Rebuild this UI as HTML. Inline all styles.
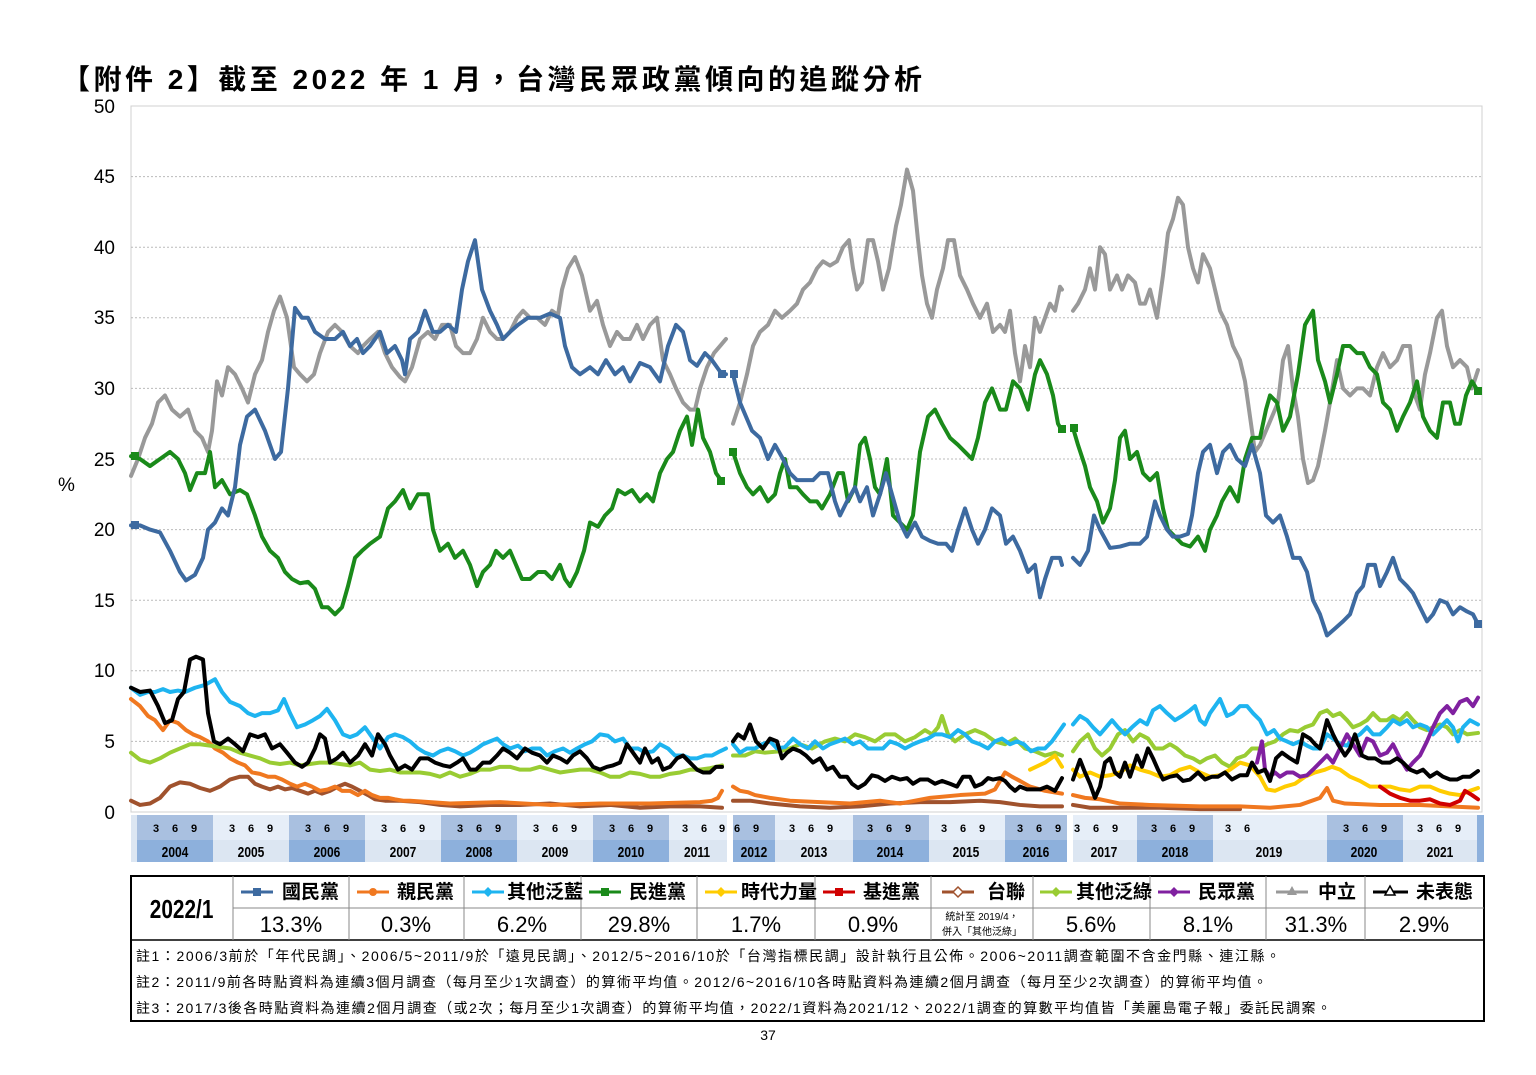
<!DOCTYPE html>
<html><head><meta charset="utf-8"><style>
body{margin:0;background:#fff;width:1536px;height:1075px;overflow:hidden;font-family:"Liberation Sans","Noto Sans CJK TC",sans-serif}
</style></head><body>
<svg width="1536" height="1075" xmlns="http://www.w3.org/2000/svg" style="position:absolute;left:0;top:0">
<text x="62" y="89" font-size="28" font-weight="bold" textLength="860" lengthAdjust="spacing" font-family="'Liberation Sans','Noto Sans CJK TC',sans-serif" fill="#000">【附件 2】截至 2022 年 1 月，台灣民眾政黨傾向的追蹤分析</text>
<rect x="131" y="106" width="1351" height="706" fill="none" stroke="#d0d0d0"/>
<g stroke="#bbb" stroke-dasharray="2,2" stroke-width="1">
<line x1="131" x2="1482" y1="176.6" y2="176.6"/><line x1="131" x2="1482" y1="247.2" y2="247.2"/><line x1="131" x2="1482" y1="317.8" y2="317.8"/><line x1="131" x2="1482" y1="388.4" y2="388.4"/><line x1="131" x2="1482" y1="459" y2="459"/><line x1="131" x2="1482" y1="529.6" y2="529.6"/><line x1="131" x2="1482" y1="600.2" y2="600.2"/><line x1="131" x2="1482" y1="670.8" y2="670.8"/><line x1="131" x2="1482" y1="741.4" y2="741.4"/>
</g>
<g font-size="19" fill="#000" text-anchor="end">
<text x="115" y="113">50</text><text x="115" y="183">45</text><text x="115" y="254">40</text><text x="115" y="324">35</text><text x="115" y="395">30</text><text x="115" y="466">25</text><text x="115" y="536">20</text><text x="115" y="607">15</text><text x="115" y="677">10</text><text x="115" y="748">5</text><text x="115" y="819">0</text>
</g>
<text x="58" y="491" font-size="19">%</text>
<g>
<rect x="131" y="815" width="6" height="47" fill="#dce6f2"/>
<rect x="137" y="815" width="76" height="25" fill="#a9c0e0"/><rect x="137" y="840" width="76" height="22" fill="#8db0dc"/>
<rect x="213" y="815" width="76" height="25" fill="#e6eef8"/><rect x="213" y="840" width="76" height="22" fill="#dce6f2"/>
<rect x="289" y="815" width="76" height="25" fill="#a9c0e0"/><rect x="289" y="840" width="76" height="22" fill="#8db0dc"/>
<rect x="365" y="815" width="76" height="25" fill="#e6eef8"/><rect x="365" y="840" width="76" height="22" fill="#dce6f2"/>
<rect x="441" y="815" width="76" height="25" fill="#a9c0e0"/><rect x="441" y="840" width="76" height="22" fill="#8db0dc"/>
<rect x="517" y="815" width="76" height="25" fill="#e6eef8"/><rect x="517" y="840" width="76" height="22" fill="#dce6f2"/>
<rect x="593" y="815" width="76" height="25" fill="#a9c0e0"/><rect x="593" y="840" width="76" height="22" fill="#8db0dc"/>
<rect x="669" y="815" width="58" height="25" fill="#e6eef8"/><rect x="669" y="840" width="58" height="22" fill="#dce6f2"/>
<rect x="733" y="815" width="42" height="25" fill="#a9c0e0"/><rect x="733" y="840" width="42" height="22" fill="#8db0dc"/>
<rect x="775" y="815" width="78" height="25" fill="#e6eef8"/><rect x="775" y="840" width="78" height="22" fill="#dce6f2"/>
<rect x="853" y="815" width="76" height="25" fill="#a9c0e0"/><rect x="853" y="840" width="76" height="22" fill="#8db0dc"/>
<rect x="929" y="815" width="76" height="25" fill="#e6eef8"/><rect x="929" y="840" width="76" height="22" fill="#dce6f2"/>
<rect x="1005" y="815" width="62" height="25" fill="#a9c0e0"/><rect x="1005" y="840" width="62" height="22" fill="#8db0dc"/>
<rect x="1073" y="815" width="64" height="25" fill="#e6eef8"/><rect x="1073" y="840" width="64" height="22" fill="#dce6f2"/>
<rect x="1137" y="815" width="76" height="25" fill="#a9c0e0"/><rect x="1137" y="840" width="76" height="22" fill="#8db0dc"/>
<rect x="1213" y="815" width="114" height="25" fill="#e6eef8"/><rect x="1213" y="840" width="114" height="22" fill="#dce6f2"/>
<rect x="1327" y="815" width="76" height="25" fill="#a9c0e0"/><rect x="1327" y="840" width="76" height="22" fill="#8db0dc"/>
<rect x="1403" y="815" width="74" height="25" fill="#e6eef8"/><rect x="1403" y="840" width="74" height="22" fill="#dce6f2"/>
<rect x="1477" y="815" width="7" height="47" fill="#8db0dc"/>
</g>
<g font-size="11" fill="#000" text-anchor="middle" font-weight="bold">
<text x="156" y="832">3</text><text x="175" y="832">6</text><text x="194" y="832">9</text>
<text x="232" y="832">3</text><text x="251" y="832">6</text><text x="270" y="832">9</text>
<text x="308" y="832">3</text><text x="327" y="832">6</text><text x="346" y="832">9</text>
<text x="384" y="832">3</text><text x="403" y="832">6</text><text x="422" y="832">9</text>
<text x="460" y="832">3</text><text x="479" y="832">6</text><text x="498" y="832">9</text>
<text x="536" y="832">3</text><text x="555" y="832">6</text><text x="574" y="832">9</text>
<text x="612" y="832">3</text><text x="631" y="832">6</text><text x="650" y="832">9</text>
<text x="685" y="832">3</text><text x="704" y="832">6</text><text x="722" y="832">9</text>
<text x="737" y="832">6</text><text x="756" y="832">9</text>
<text x="792" y="832">3</text><text x="811" y="832">6</text><text x="830" y="832">9</text>
<text x="870" y="832">3</text><text x="889" y="832">6</text><text x="908" y="832">9</text>
<text x="944" y="832">3</text><text x="963" y="832">6</text><text x="982" y="832">9</text>
<text x="1020" y="832">3</text><text x="1039" y="832">6</text><text x="1058" y="832">9</text>
<text x="1077" y="832">3</text><text x="1096" y="832">6</text><text x="1115" y="832">9</text>
<text x="1154" y="832">3</text><text x="1173" y="832">6</text><text x="1192" y="832">9</text>
<text x="1228" y="832">3</text><text x="1247" y="832">6</text>
<text x="1346" y="832">3</text><text x="1365" y="832">6</text><text x="1384" y="832">9</text>
<text x="1420" y="832">3</text><text x="1439" y="832">6</text><text x="1458" y="832">9</text>
</g>
<g font-size="15" fill="#000" text-anchor="middle" font-weight="bold" transform="scale(0.8,1)">
<text x="218.75" y="857">2004</text><text x="313.75" y="857">2005</text><text x="408.75" y="857">2006</text><text x="503.75" y="857">2007</text><text x="598.75" y="857">2008</text><text x="693.75" y="857">2009</text><text x="788.75" y="857">2010</text><text x="871.25" y="857">2011</text><text x="942.5" y="857">2012</text><text x="1017.5" y="857">2013</text><text x="1112.5" y="857">2014</text><text x="1207.5" y="857">2015</text><text x="1295" y="857">2016</text><text x="1380" y="857">2017</text><text x="1468.75" y="857">2018</text><text x="1586.25" y="857">2019</text><text x="1705" y="857">2020</text><text x="1800" y="857">2021</text>
</g>
<g fill="none" stroke-linejoin="round" stroke-linecap="round" transform="matrix(1,0,0,-14.12,0,812)">
<g stroke="#a0522d" stroke-width="4">
<polyline vector-effect="non-scaling-stroke" points="131,0.8 140,0.5 150,0.6 160,1 170,1.8 180,2.1 190,2 200,1.7 210,1.5 220,1.8 230,2.3 240,2.5 248,2.5 255,2 262,1.8 270,1.6 278,1.8 285,1.6 292,1.7 300,1.5 308,1.3 315,1.5 322,1.3 330,1.5 338,1.8 345,2 352,1.8 360,1.5 368,1.2 375,0.9 385,0.8 400,0.8 420,0.7 440,0.5 460,0.4 490,0.5 520,0.5 550,0.6 580,0.4 610,0.5 640,0.3 670,0.4 700,0.4 722,0.3"/>
<polyline vector-effect="non-scaling-stroke" points="733,0.8 750,0.8 770,0.6 800,0.4 830,0.3 860,0.4 890,0.6 920,0.7 950,0.7 980,0.8 1000,0.7 1020,0.5 1040,0.4 1062,0.4"/>
<polyline vector-effect="non-scaling-stroke" points="1073,0.5 1090,0.3 1120,0.3 1160,0.3 1200,0.2 1240,0.2"/>
</g>
<g stroke="#f07820" stroke-width="4">
<polyline vector-effect="non-scaling-stroke" points="131,8 140,7.5 148,6.8 155,6.5 163,5.8 170,6.5 178,6.3 186,5.8 193,5.5 200,5.3 208,5 215,4.5 223,4.2 230,3.8 238,3.5 245,3.3 252,2.8 260,2.7 268,2.5 275,2.5 282,2.3 290,2 297,1.8 305,2 312,1.8 320,1.5 328,1.6 335,1.8 342,1.5 350,1.5 358,1.2 365,1.5 372,1.2 380,1 388,1 395,0.9 403,0.8 410,0.8 450,0.6 500,0.7 550,0.5 600,0.6 650,0.6 700,0.7 712,0.8 718,1 722,1.5"/>
<polyline vector-effect="non-scaling-stroke" points="733,1.8 740,1.5 748,1.4 755,1.2 770,1 790,0.8 820,0.7 850,0.6 880,0.8 900,0.6 930,1 960,1.2 985,1.3 995,1.6 1005,2.8 1012,2.5 1020,2.2 1030,1.8 1045,1.5 1062,1.3"/>
<polyline vector-effect="non-scaling-stroke" points="1073,1.2 1085,1 1100,0.9 1120,0.6 1150,0.5 1200,0.4 1240,0.4 1270,0.3 1300,0.5 1320,1 1327,1.7 1333,0.8 1345,0.6 1380,0.5 1420,0.5 1478,0.3"/>
</g>
<g stroke="#99cc33" stroke-width="4">
<polyline vector-effect="non-scaling-stroke" points="131,4.2 140,3.7 150,3.5 160,3.8 170,4.2 180,4.5 190,4.8 200,4.8 210,4.7 220,4.6 230,4.5 240,4.2 250,4 260,3.8 270,3.5 280,3.4 290,3.5 300,3.3 310,3.4 320,3.5 330,3.5 340,3.4 350,3.3 360,3.5 370,3 380,2.9 390,3 400,2.8 410,2.8 420,2.8 430,2.7 440,2.5 450,2.8 460,2.5 470,2.7 480,3 490,3 500,3.2 510,3.2 520,3 530,3 540,3.2 550,3 560,2.8 570,2.9 580,3 590,3 600,2.8 610,2.5 620,2.5 630,2.8 640,2.7 650,2.5 660,2.5 670,2.7 680,2.8 690,3 700,3 710,3.1 722,3.3"/>
<polyline vector-effect="non-scaling-stroke" points="733,4 745,4 755,4.3 765,4.2 780,4.3 790,4.5 800,4.8 812,4.5 825,5 835,5.2 845,5 855,5.5 865,5.3 875,5 885,5.5 895,5.5 905,5 915,5.3 925,5.8 932,5.5 938,6 942,6.8 948,5.5 955,5 965,5.5 975,5.8 985,5.5 995,5 1005,4.8 1015,5.2 1025,4.5 1035,4.3 1045,4 1055,4.2 1062,4"/>
<polyline vector-effect="non-scaling-stroke" points="1073,4.3 1080,5 1088,5.5 1095,4.5 1102,4 1110,4.5 1118,5.5 1125,5.8 1133,5 1140,5.5 1148,5.2 1155,4.5 1163,4.5 1170,4.8 1177,4.5 1185,4 1193,3.8 1200,3.5 1207,3.8 1215,4 1222,3.5 1230,3.2 1237,3.8 1245,4 1252,4.5 1260,4.5 1267,4.8 1275,5 1283,5.5 1290,5.8 1298,5.7 1305,6 1313,6.2 1320,7 1327,7.2 1333,6.8 1340,7 1347,6.5 1353,6 1360,6.2 1367,6.5 1373,7 1380,6.5 1387,6.5 1393,6.8 1400,6.5 1407,7 1413,6.5 1420,6 1427,5.8 1433,6 1440,6.2 1447,6 1453,5.5 1460,5.8 1467,5.5 1478,5.6"/>
</g>
<g stroke="#ffcc00" stroke-width="4">
<polyline vector-effect="non-scaling-stroke" points="1030,3 1045,3.5 1055,4 1062,3.2"/>
<polyline vector-effect="non-scaling-stroke" points="1073,3 1080,2.5 1090,2.8 1100,2.5 1110,2.6 1120,2.8 1130,3.3 1140,3 1150,2.8 1160,2.5 1170,2.6 1180,3 1190,3.2 1200,2.8 1210,2.5 1220,2.6 1230,3 1240,3.5 1250,3.3 1260,2.5 1267,1.6 1275,1.5 1285,1.8 1295,2 1305,2.5 1315,2.8 1325,3 1332,3.2 1340,3 1350,2.5 1360,2.2 1370,1.8 1380,1.8 1390,1.8 1400,1.6 1410,1.5 1420,1.8 1430,1.8 1440,1.5 1450,1.3 1460,1.2 1470,1.5 1478,1.7"/>
</g>
<g stroke="#1eb4f0" stroke-width="4">
<polyline vector-effect="non-scaling-stroke" points="131,8.8 140,8.3 148,8.5 155,8.5 163,8.7 170,8.5 178,8.6 185,8.5 195,8.8 205,9 215,9.4 222,8.5 230,7.8 240,7.5 248,7 255,6.8 262,7 270,7 278,7.2 284,8 290,7 297,6 305,6.2 313,6.5 320,6.8 327,7.3 335,6.5 343,5.5 350,5.3 357,5.5 365,6 372,5.3 380,4.5 388,5.3 395,5.5 403,5.3 410,5 418,4.5 425,4.2 433,4 440,4.3 448,4.5 455,4.3 463,4 470,4.2 477,4.5 483,4.8 490,5 497,5.2 503,4.8 510,4.5 518,4.7 525,4.3 532,4.5 540,4.5 547,4 555,4.3 563,4.5 570,4.2 577,4.5 585,4.8 592,5 600,5.5 608,5.4 615,5 623,5.2 630,4.5 638,4.5 645,4.2 653,4.3 660,4.8 668,4.5 675,4 683,4 690,3.8 697,3.8 705,4 712,4 720,4.3 726,4.5"/>
<polyline vector-effect="non-scaling-stroke" points="733,4.8 740,4.2 747,4.5 755,4.5 762,4.8 770,5 777,4.5 785,4.6 793,5.2 800,4.8 808,4.5 815,5 823,4.5 830,4.8 838,5 845,5.2 853,4.8 860,5 868,4.5 875,4.5 883,4.5 890,5 898,4.8 905,4.5 913,4.8 920,5 928,5.2 935,5.5 942,5.5 950,5.3 958,5.8 965,5.5 972,5 980,4.8 988,4.5 995,5 1002,5.2 1010,4.8 1017,5 1024,4.8 1031,4.3 1038,4.5 1045,4.5 1052,5 1060,5.8 1064,6.2"/>
<polyline vector-effect="non-scaling-stroke" points="1073,6.2 1080,6.8 1087,6.5 1093,6 1100,5.5 1106,6 1112,6.5 1118,6 1125,5.5 1132,6 1140,6.5 1147,6.2 1153,7.2 1160,7.5 1167,7 1175,6.5 1182,6.8 1190,7.2 1195,7.5 1200,6.5 1205,6.2 1210,7 1215,7.5 1220,8 1227,6.8 1233,7 1240,7.5 1247,7.5 1253,7 1260,6.5 1267,5.5 1274,5.8 1280,5.2 1287,5 1293,4.8 1300,5 1307,4.7 1313,4.5 1320,4.5 1327,5.5 1333,5.2 1340,4.8 1347,4.7 1353,5.2 1360,5.5 1367,6 1373,5.5 1380,5.5 1387,6 1393,6.5 1400,6.2 1407,6.5 1413,6 1420,6.2 1427,6 1433,5.5 1440,6 1447,6.5 1453,6 1458,5 1463,6 1470,6.5 1478,6.2"/>
</g>
<g stroke="#8020a0" stroke-width="4">
<polyline vector-effect="non-scaling-stroke" points="1257,3.5 1262,5 1265,3 1270,2.5 1275,2.8 1280,2.5 1287,2.8 1293,2.8 1300,2.5 1307,2.6 1313,3 1320,3.5 1327,4 1333,3.5 1340,4.5 1347,5.5 1353,4.8 1360,4 1367,5.2 1373,5 1380,4 1387,4.2 1393,4.8 1400,3.8 1407,3 1413,3.5 1420,4 1427,5 1433,6 1440,7 1447,7.5 1453,7 1460,7.8 1467,8 1473,7.5 1478,8.1"/>
</g>
<g stroke="#d00000" stroke-width="4">
<polyline vector-effect="non-scaling-stroke" points="1380,1.8 1390,1.3 1400,1 1410,0.8 1420,0.8 1430,0.9 1440,0.6 1450,0.5 1460,0.8 1465,1.5 1472,1.2 1478,0.9"/>
</g>
<g stroke="#000" stroke-width="4">
<polyline vector-effect="non-scaling-stroke" points="131,8.8 140,8.5 150,8.6 158,7.5 165,6.3 172,6.5 178,8 184,8.5 190,10.8 196,11 203,10.8 208,7 214,5 220,4.8 228,5.2 235,4.8 243,4.3 250,5.5 258,5.3 265,5.5 272,4.5 280,4.8 287,4.2 295,3.5 302,3.2 308,3.5 315,4.5 320,5.5 325,5.2 330,3.5 337,3.8 343,4.2 350,3.5 358,4 365,4.8 372,4 378,5.5 385,4.8 390,4 398,3 405,3.3 412,3 420,3.8 428,3.8 435,3.5 443,3.3 450,3.2 457,3.5 463,3.8 470,3 476,3 483,3.5 490,3.5 497,4 503,4.5 510,4.2 517,3.8 525,4.5 532,4.2 540,4 547,3.5 553,4 560,3.8 567,3.5 573,4 580,4.3 587,3.8 593,3.2 600,3 607,3.2 613,3.3 620,3.5 627,4.8 633,4.2 640,3.5 645,4.5 652,3.5 658,3.8 663,3 670,3.2 677,3.8 683,4 690,3.5 697,3 703,2.8 710,2.8 716,3.2 722,3.2"/>
<polyline vector-effect="non-scaling-stroke" points="733,5 738,5.5 744,5.2 750,6.2 756,5 763,4.5 770,5.2 777,5 782,3.8 787,4.2 793,4.5 800,4.3 806,4 813,3.5 820,3.8 827,3 833,3.2 840,2.5 847,2.5 852,2 858,1.7 865,2 872,2.6 878,2.5 885,2.2 892,2.5 900,2.3 907,2.4 913,2 920,2.3 928,2.3 935,2 942,2.2 950,2 957,1.8 963,2.5 970,2.5 975,1.8 982,2 988,2.4 993,2.3 1000,2.4 1005,2.2 1010,1.8 1015,1.5 1020,1.8 1027,1.6 1033,1.6 1040,1.6 1047,1.8 1055,1.5 1062,2.4"/>
<polyline vector-effect="non-scaling-stroke" points="1073,2.3 1080,3.7 1085,2.8 1090,2 1095,1 1100,1.8 1105,3.5 1110,3.8 1115,2.8 1120,2.5 1125,3.5 1130,2.5 1137,4 1142,3.2 1148,4.5 1153,3.8 1158,3 1163,2.3 1170,2.5 1177,2.6 1183,2.2 1190,2.3 1198,2.8 1205,2.3 1212,2.5 1218,2.5 1225,2.8 1232,2.3 1240,2.6 1247,2.6 1252,3.5 1258,2.8 1265,3 1270,2.2 1276,3.8 1282,4.2 1290,3.8 1297,3.5 1303,5.5 1310,5.2 1315,4.8 1320,4.5 1327,6.5 1333,5.5 1338,4.8 1345,4 1350,4.5 1355,5.5 1362,4 1368,3.8 1375,3.8 1382,3.5 1390,3.5 1397,3.8 1403,3.5 1410,3 1417,2.8 1423,3 1430,2.5 1437,2.8 1443,2.5 1450,2.3 1457,2.3 1463,2.5 1470,2.5 1478,2.9"/>
</g>
<g stroke="#999" stroke-width="4">
<polyline vector-effect="non-scaling-stroke" points="131,23.8 138,25 145,26.5 152,27.5 158,29 165,29.5 172,28.5 180,28 188,28.5 195,27 202,26.5 208,25.5 212,27 217,30.5 222,29.5 228,31.5 235,31 242,30 248,29 255,31 262,32 268,34 274,35.5 280,36.5 287,35 294,31.5 300,31 307,30.5 314,31 320,32.5 328,34 335,34.5 342,34 350,33 358,32.5 363,33 370,33.5 378,34 385,32.5 392,31.5 400,30.8 405,30.5 412,31.5 420,33.5 428,34 435,33.5 442,34.5 450,34.5 456,33 463,32.5 470,32.5 477,33.5 483,35 490,34 497,33.5 503,33.5 510,34 517,35 523,35.5 530,35 537,35 545,34.5 552,35.5 558,35.2 562,37 568,38.5 575,39.3 582,38 590,35.5 597,36.2 603,34.5 610,33 617,34 623,33.5 630,33.5 637,34.5 643,33.5 650,34.5 657,35 663,32 670,31 676,30 683,29 690,28.5 695,28.5 700,30 707,31.5 714,32.5 720,33 726,33.5"/>
<polyline vector-effect="non-scaling-stroke" points="733,27.5 740,29 747,31 753,33 760,34 768,34.5 775,35.5 782,35 790,35.5 797,36 803,37 810,37.5 817,38.5 823,39 830,38.7 837,39 843,40 849,40.5 853,38.5 857,37 862,37.5 868,40.5 873,40.5 878,39 883,37 889,38.5 896,41.5 901,43 907,45.5 913,44 918,40.5 922,38 927,36 932,35 937,37 943,38.5 948,40.5 954,40.5 960,38 967,37 973,36 980,35 987,36 993,34 1000,34.5 1005,34 1010,35.5 1015,32.5 1020,30.5 1025,33 1030,31.5 1035,35 1040,34 1045,35 1050,36 1055,35.5 1060,37.2 1062,37"/>
<polyline vector-effect="non-scaling-stroke" points="1073,35.5 1078,36 1085,37 1090,38.5 1095,37 1100,40 1105,39.5 1110,37 1117,38 1122,37 1128,38 1135,37.5 1140,36 1145,36 1150,37 1157,35 1163,38 1168,41 1173,42 1178,43.5 1183,43 1188,40 1193,38.5 1198,37.5 1203,39.5 1210,38.5 1215,37 1220,35.5 1227,34.5 1233,33 1240,32 1245,30.5 1250,28 1255,25.5 1260,26 1266,27 1272,28 1278,29 1283,32 1288,33 1293,30 1298,28 1303,25 1308,23.3 1313,23.5 1318,24.5 1325,27 1330,29 1337,32 1343,30 1350,29.5 1357,30 1363,30 1370,29.5 1377,31.5 1383,32.5 1390,31.5 1397,32 1403,33 1410,33 1415,29.5 1420,28.5 1425,31 1430,32.5 1437,35 1442,35.5 1447,33 1453,31.5 1460,32 1467,31.5 1472,30 1478,31.3"/>
</g>
<g stroke="#1a8a1a" stroke-width="4">
<polyline vector-effect="non-scaling-stroke" points="131,25.2 140,25 150,24.5 160,25 170,25.5 178,25 185,24 190,22.8 197,24 205,24 210,25.5 215,23 222,23.5 230,22.5 240,22.8 247,22.5 255,21 262,19.5 270,18.5 278,18 285,17 292,16.5 300,16.2 308,16.3 315,15.8 322,14.5 328,14.5 335,14 342,14.5 348,16 355,18 362,18.5 370,19 380,19.5 388,21.5 395,22 403,22.8 410,21.5 418,22.5 428,22.5 433,20 440,18.5 448,19 455,18 463,18.5 470,17.5 477,16 483,17 490,17.5 496,18.5 503,18 510,18.5 516,17.5 522,16.5 530,16.5 538,17 545,17 552,16.5 560,17.5 565,16.5 570,16 577,17 584,18.5 590,20.5 598,20.2 605,21 612,21.5 618,22.8 625,22.5 632,22.8 640,22 647,22.5 653,22 660,24 667,25 673,25.5 680,27 687,28 692,26 698,28.5 703,26.5 710,25.5 716,24 721,23.5"/>
<polyline vector-effect="non-scaling-stroke" points="733,25.5 740,24 747,23 753,22.5 760,23 768,22 775,22.5 780,24 785,25 790,23 797,23 803,22.5 810,22 817,22 822,21.5 830,22.5 838,24 843,24 848,22 855,23 860,26 865,26.5 870,25 875,23 880,22.5 887,25 893,21 900,20.5 907,20 913,21 920,25.5 928,28 935,28.5 942,27.5 950,26.5 958,26 965,25.5 972,25 978,26.5 985,29 992,30 1000,28.5 1006,28.5 1013,30.5 1020,30 1028,28.5 1035,31 1040,32 1047,31 1053,29.5 1058,27.5 1062,27"/>
<polyline vector-effect="non-scaling-stroke" points="1073,27.2 1078,26 1085,24.5 1090,23 1097,22 1103,20.5 1110,21.5 1115,23.5 1120,26.5 1125,27 1130,25 1137,25.5 1143,24 1150,23.5 1157,24 1163,21.5 1168,20 1175,19.5 1182,19 1190,18.8 1198,19.5 1205,18.5 1210,20 1217,21 1222,22 1230,23 1238,22 1245,25 1252,26.5 1260,26.5 1266,28.5 1270,29.5 1277,29 1283,27 1290,28 1298,31 1305,34.5 1313,35.5 1318,32 1325,30.5 1330,29 1337,31 1343,33 1350,33 1357,32.5 1363,32.5 1370,31.5 1377,31 1383,29 1390,28.5 1397,27 1403,28 1410,29 1417,30.5 1423,28 1430,27 1437,26.5 1443,29 1450,29 1455,27.5 1460,27.5 1466,29.5 1472,30.5 1478,29.8"/>
</g>
<g stroke="#3d6aa0" stroke-width="4">
<polyline vector-effect="non-scaling-stroke" points="131,20.3 140,20.3 150,20 160,19.8 170,18.5 180,17 186,16.4 195,16.8 203,18 208,20 215,20.5 222,21.5 228,21 235,23 240,26 247,28 255,28.5 265,27 275,25 281,25.5 288,30 295,35.7 302,35 308,35 315,34 325,33.5 335,33.5 343,34 350,33 357,33.5 363,32.5 370,33 380,34 387,32.5 395,33 402,32 405,31 410,33.5 418,34 425,35.5 433,34 440,34 448,34.5 456,34 462,37 468,39 475,40.5 482,37 490,35.5 497,34.5 503,33.5 510,34 518,34.5 528,35 540,35 550,35.3 560,35 565,33 572,31.5 580,31 590,31.5 598,31 606,32 615,31 623,31.5 630,30.5 640,31.8 650,31.5 660,30.5 668,33 676,34.5 683,34 690,32 697,31.6 705,32.5 712,32 717,31.5 722,31 726,31"/>
<polyline vector-effect="non-scaling-stroke" points="733,31 740,29 746,28 752,27 760,26.5 768,25 775,26 783,25 790,24 797,23.5 805,23.5 813,23.5 820,24 828,24 835,22 840,21 847,22 855,23 860,22 867,23 873,21 880,22.5 886,24 892,22.5 900,20.5 907,19.5 915,20.5 922,19.5 930,19.2 938,19 946,19 952,18.5 958,20 965,21.5 972,20 978,19 985,20 992,21.5 1000,21 1006,19 1013,19.5 1020,18.5 1028,17 1035,17.5 1040,15.2 1045,16.5 1052,18 1060,18 1062,17.5"/>
<polyline vector-effect="non-scaling-stroke" points="1073,18 1080,17.5 1088,18.5 1094,21 1100,20 1110,18.7 1120,18.8 1130,19 1140,19 1147,19.5 1155,22 1160,21 1167,20 1173,19.5 1180,19.5 1188,19.7 1192,21 1198,24 1203,25.5 1210,26 1217,24 1223,25.5 1230,26 1237,25 1245,24.5 1252,26 1260,24 1266,21 1273,20.5 1280,21 1287,19.5 1293,18 1300,18 1307,17 1313,15 1320,14 1327,12.5 1335,13 1343,13.5 1350,14 1357,15.5 1363,16 1368,17.5 1375,17.5 1380,16 1387,17 1393,18 1400,16.5 1407,16 1413,15.5 1420,14.5 1427,13.5 1433,14 1440,15 1447,14.8 1453,14 1460,14.5 1467,14.2 1473,14 1478,13.3"/>
</g>
</g>
<g>
<rect x="131" y="521" width="8" height="8" fill="#3d6aa0"/><rect x="1474" y="620" width="8" height="8" fill="#3d6aa0"/>
<rect x="718" y="370" width="8" height="8" fill="#3d6aa0"/><rect x="730" y="370" width="8" height="8" fill="#3d6aa0"/>
<rect x="131" y="452" width="8" height="8" fill="#1a8a1a"/><rect x="1474" y="387" width="8" height="8" fill="#1a8a1a"/>
<rect x="717" y="477" width="8" height="8" fill="#1a8a1a"/><rect x="729" y="448" width="8" height="8" fill="#1a8a1a"/>
<rect x="1058" y="425" width="8" height="8" fill="#1a8a1a"/><rect x="1070" y="424" width="8" height="8" fill="#1a8a1a"/>
</g>
<g stroke="#888" stroke-width="1" fill="none">
<rect x="131" y="876" width="1353" height="145" stroke="#000" stroke-width="2"/>
<line x1="131" x2="1484" y1="940" y2="940" stroke="#000" stroke-width="1.5"/>
<line x1="233" x2="1484" y1="908" y2="908"/>
<line x1="233" x2="233" y1="876" y2="940"/><line x1="349" x2="349" y1="876" y2="940"/><line x1="464" x2="464" y1="876" y2="940"/><line x1="581" x2="581" y1="876" y2="940"/><line x1="697" x2="697" y1="876" y2="940"/><line x1="815" x2="815" y1="876" y2="940"/><line x1="931" x2="931" y1="876" y2="940"/><line x1="1033" x2="1033" y1="876" y2="940"/><line x1="1150" x2="1150" y1="876" y2="940"/><line x1="1266" x2="1266" y1="876" y2="940"/><line x1="1365" x2="1365" y1="876" y2="940"/>
</g>
<g stroke-width="3">
<line x1="241" x2="273" y1="892" y2="892" stroke="#3d6aa0"/><rect x="253" y="888" width="8" height="8" fill="#3d6aa0"/>
<line x1="357" x2="389" y1="892" y2="892" stroke="#f07820"/><circle cx="373" cy="892" r="4" fill="#f07820"/>
<line x1="472" x2="504" y1="892" y2="892" stroke="#1eb4f0"/><path d="M488 887l5 5-5 5-5-5z" fill="#1eb4f0"/>
<line x1="589" x2="621" y1="892" y2="892" stroke="#1a8a1a"/><rect x="601" y="888" width="8" height="8" fill="#1a8a1a"/>
<line x1="705" x2="737" y1="892" y2="892" stroke="#ffcc00"/><path d="M721 887l5 5-5 5-5-5z" fill="#ffcc00"/>
<line x1="823" x2="855" y1="892" y2="892" stroke="#d00000"/><rect x="835" y="888" width="8" height="8" fill="#d00000"/>
<line x1="942" x2="974" y1="892" y2="892" stroke="#a0522d"/><path d="M958 887l5 5-5 5-5-5z" fill="#fff" stroke="#a0522d" stroke-width="1.5"/>
<line x1="1040" x2="1072" y1="892" y2="892" stroke="#99cc33"/><path d="M1056 887l5 5-5 5-5-5z" fill="#99cc33"/>
<line x1="1158" x2="1190" y1="892" y2="892" stroke="#8020a0"/><path d="M1174 887l5 5-5 5-5-5z" fill="#8020a0"/>
<line x1="1276" x2="1308" y1="892" y2="892" stroke="#999"/><path d="M1292 886l5 9h-10z" fill="#999"/>
<line x1="1373" x2="1408" y1="892" y2="892" stroke="#000"/><path d="M1390 886l5 9h-10z" fill="#fff" stroke="#000" stroke-width="1.5"/>
</g>
<g font-family="'Liberation Sans','Noto Sans CJK TC',sans-serif" fill="#000">
<text x="182" y="918" font-size="26" font-weight="bold" text-anchor="middle" transform="translate(36,0) scale(0.8,1)">2022/1</text>
<g font-size="19" font-weight="bold">
<text x="282" y="898">國民黨</text><text x="397" y="898">親民黨</text><text x="507" y="898">其他泛藍</text><text x="629" y="898">民進黨</text><text x="741" y="898">時代力量</text><text x="863" y="898">基進黨</text><text x="987" y="898">台聯</text><text x="1076" y="898">其他泛綠</text><text x="1198" y="898">民眾黨</text><text x="1318" y="898">中立</text><text x="1416" y="898">未表態</text>
</g>
<g font-size="22" text-anchor="middle">
<text x="291" y="932">13.3%</text><text x="406" y="932">0.3%</text><text x="522" y="932">6.2%</text><text x="639" y="932">29.8%</text><text x="756" y="932">1.7%</text><text x="873" y="932">0.9%</text><text x="1091" y="932">5.6%</text><text x="1208" y="932">8.1%</text><text x="1316" y="932">31.3%</text><text x="1424" y="932">2.9%</text>
</g>
<text x="982" y="920" font-size="10" text-anchor="middle">統計至 2019/4，</text>
<text x="982" y="935" font-size="10" text-anchor="middle">併入「其他泛綠」</text>
<g font-size="14">
<text x="136" y="961" textLength="1144" lengthAdjust="spacing">註1：2006/3前於「年代民調」、2006/5~2011/9於「遠見民調」、2012/5~2016/10於「台灣指標民調」設計執行且公佈。2006~2011調查範圍不含金門縣、連江縣。</text>
<text x="136" y="987" textLength="1131" lengthAdjust="spacing">註2：2011/9前各時點資料為連續3個月調查（每月至少1次調查）的算術平均值。2012/6~2016/10各時點資料為連續2個月調查（每月至少2次調查）的算術平均值。</text>
<text x="136" y="1013" textLength="1195" lengthAdjust="spacing">註3：2017/3後各時點資料為連續2個月調查（或2次；每月至少1次調查）的算術平均值，2022/1資料為2021/12、2022/1調查的算數平均值皆「美麗島電子報」委託民調案。</text>
</g>
<text x="768" y="1040" font-size="14" text-anchor="middle">37</text>
</g>
</svg>
</body></html>
